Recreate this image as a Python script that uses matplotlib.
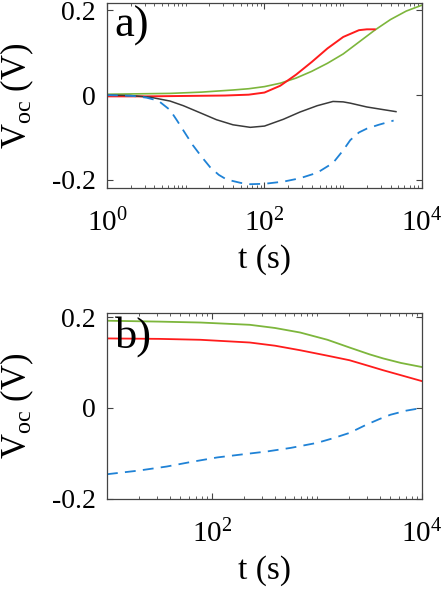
import numpy as np
import matplotlib
matplotlib.use("Agg")
import matplotlib.pyplot as plt
from matplotlib.ticker import FixedLocator, FixedFormatter, LogLocator, NullFormatter

plt.rcParams['font.family'] = ['Liberation Serif', 'DejaVu Serif']
plt.rcParams['mathtext.fontset'] = 'custom'
plt.rcParams['mathtext.rm'] = 'Liberation Serif'
plt.rcParams['mathtext.it'] = 'Liberation Serif:italic'

# ---------------- Panel a) data (log10 t, Voc) ----------------
a_green_logt = [0.0, 0.4, 0.8, 1.2, 1.6, 1.8, 2.0, 2.2, 2.4, 2.6, 2.8, 3.0, 3.2, 3.4, 3.6, 3.8, 4.0]
a_green_v    = [0.002, 0.003, 0.004, 0.007, 0.012, 0.015, 0.020, 0.028, 0.040, 0.056, 0.075, 0.097, 0.125, 0.153, 0.178, 0.198, 0.212]

a_red_logt = [0.0, 0.5, 1.0, 1.5, 1.8, 2.0, 2.2, 2.4, 2.6, 2.8, 3.0, 3.2, 3.3, 3.4]
a_red_v    = [-0.003, -0.003, -0.002, -0.001, 0.001, 0.006, 0.022, 0.048, 0.078, 0.110, 0.137, 0.153, 0.155, 0.155]

a_black_logt = [0.0, 0.3, 0.55, 0.8, 0.97, 1.2, 1.39, 1.6, 1.82, 2.0, 2.24, 2.45, 2.67, 2.87, 3.0, 3.09, 3.3, 3.5, 3.67]
a_black_v    = [0.0, -0.001, -0.005, -0.014, -0.025, -0.043, -0.058, -0.070, -0.076, -0.073, -0.057, -0.040, -0.025, -0.015, -0.016, -0.019, -0.028, -0.034, -0.039]

a_blue_logt = [0.0, 0.33, 0.5, 0.65, 0.8, 0.89, 1.0, 1.09, 1.2, 1.31, 1.42, 1.52, 1.7, 1.82, 2.0, 2.24, 2.45, 2.67, 2.87, 3.0, 3.09, 3.2, 3.3, 3.45, 3.64]
a_blue_v    = [0.0, -0.002, -0.006, -0.013, -0.035, -0.060, -0.092, -0.118, -0.145, -0.170, -0.188, -0.199, -0.207, -0.210, -0.209, -0.204, -0.196, -0.183, -0.160, -0.130, -0.106, -0.088, -0.079, -0.070, -0.060]

# ---------------- Panel b) data (log10 t, Voc) ----------------
b_green_logt = [1.0, 1.5, 1.89, 2.36, 2.6, 2.84, 3.1, 3.31, 3.5, 3.63, 3.8, 4.0]
b_green_v    = [0.192, 0.190, 0.188, 0.183, 0.176, 0.166, 0.150, 0.133, 0.118, 0.109, 0.099, 0.090]

b_red_logt = [1.0, 1.5, 1.89, 2.36, 2.6, 2.84, 3.1, 3.31, 3.5, 3.63, 3.8, 4.0]
b_red_v    = [0.153, 0.152, 0.150, 0.144, 0.137, 0.127, 0.115, 0.105, 0.092, 0.083, 0.072, 0.059]

b_blue_logt = [1.0, 1.3, 1.57, 1.8, 2.05, 2.3, 2.52, 2.75, 3.0, 3.15, 3.31, 3.47, 3.6, 3.7, 3.85, 4.0]
b_blue_v    = [-0.146, -0.138, -0.129, -0.119, -0.109, -0.102, -0.096, -0.088, -0.077, -0.067, -0.055, -0.037, -0.024, -0.015, -0.006, 0.0]

ytick_vals = [-0.2, 0.0, 0.2]
ytick_labels = ['-0.2', '0', '0.2']
a_xticks = [1, 100, 10000]
a_xtick_labels = [r'$10^{0}$', r'$10^{2}$', r'$10^{4}$']
b_xticks = [100, 10000]
b_xtick_labels = [r'$10^{2}$', r'$10^{4}$']

GREEN = '#7db63c'
RED = '#ff1c1c'
BLUE = '#1f82d6'
BLACK = '#3a3a3a'
FRAME = '#444444'

fig = plt.figure(figsize=(4.43, 5.92), dpi=100)
ax1 = fig.add_axes([0.2415, 0.6824, 0.711, 0.3125])
ax2 = fig.add_axes([0.2415, 0.1571, 0.711, 0.3142])


def tp(logt):
    return 10 ** np.asarray(logt)


ax1.plot(tp(a_green_logt), a_green_v, color=GREEN, lw=1.2)
ax1.plot(tp(a_red_logt), a_red_v, color=RED, lw=1.4)
ax1.plot(tp(a_black_logt), a_black_v, color=BLACK, lw=1.1)
ax1.plot(tp(a_blue_logt), a_blue_v, color=BLUE, lw=1.3, dashes=(6, 4))

ax2.plot(tp(b_green_logt), b_green_v, color=GREEN, lw=1.3)
ax2.plot(tp(b_red_logt), b_red_v, color=RED, lw=1.3)
ax2.plot(tp(b_blue_logt), b_blue_v, color=BLUE, lw=1.3, dashes=(6, 4))

for ax, xl, yl, xt, xtl, lab in [
        (ax1, (1, 1e4), (-0.219, 0.217), a_xticks, a_xtick_labels, 'a)'),
        (ax2, (10, 1e4), (-0.2005, 0.209), b_xticks, b_xtick_labels, 'b)')]:
    ax.set_xscale('log')
    ax.set_xlim(*xl)
    ax.set_ylim(*yl)
    ax.xaxis.set_major_locator(FixedLocator(xt))
    ax.xaxis.set_major_formatter(FixedFormatter(xtl))
    ax.xaxis.set_minor_locator(LogLocator(base=10, subs=np.arange(1, 10), numticks=20))
    ax.xaxis.set_minor_formatter(NullFormatter())
    ax.yaxis.set_major_locator(FixedLocator(ytick_vals))
    ax.yaxis.set_major_formatter(FixedFormatter(ytick_labels))
    ax.tick_params(which='both', direction='in', top=True, right=True, color=FRAME)
    ax.tick_params(which='major', length=4, width=0.8)
    ax.tick_params(which='minor', length=2.2, width=0.6)
    ax.tick_params(axis='y', labelsize=20, pad=8)
    ax.tick_params(axis='x', labelsize=21, pad=15)
    for s in ax.spines.values():
        s.set_color(FRAME)
        s.set_linewidth(0.9)
    ax.set_xlabel('t (s)', fontsize=24, labelpad=5)
    ax.set_ylabel(r'V$_{\mathregular{oc}}$ (V)', fontsize=25)
    ax.yaxis.set_label_coords(-0.225, 0.5)
    ax.text(0.025, 0.985, lab, transform=ax.transAxes, fontsize=32,
            va='top', ha='left')

fig.savefig('out.png', dpi=100)
